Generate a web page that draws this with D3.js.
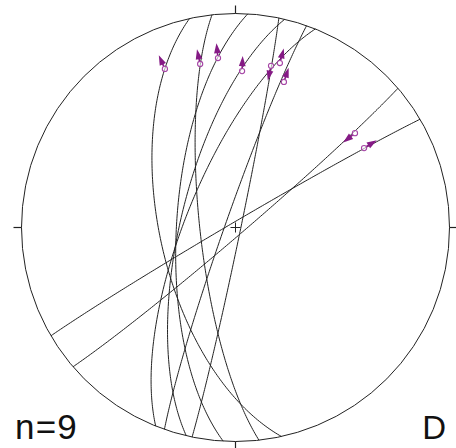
<!DOCTYPE html>
<html><head><meta charset="utf-8">
<script src="https://cdn.jsdelivr.net/npm/d3@7"></script>
<style>html,body{margin:0;padding:0;background:#fff;}svg{display:block;}</style>
</head><body>
<script>
// Fault planes (right-hand-rule strike, dip) — lower hemisphere, equal-area
const strikes = [167.6, 173.7, 183.3, 11.7, 193.3, 199.4, 201.9, 49.4, 239.6];
const dips    = [61,    76.5,  67.5,  88,   69,    86,    71,    87,   88];
// Slip lineations (trend, plunge) and arrow sense (+1 outward, -1 inward)
const linTrends  = [336.0, 347.8, 354.1, 2.4, 12.4, 15.1, 18.4, 51.7, 58.3];
const linPlunges = [20.0, 22.9, 21.5, 27.7, 23.7, 21.5, 29.1, 29.6, 30.1];
const senses     = [1, 1, 1, 1, -1, 1, 1, -1, 1];
const countLabel = "n=9";
const panelLabel = "D";

const W = 456, H = 448;
const cx = 235.5, cy = 227.5, R = 214;
const svg = d3.select("body").append("svg").attr("width", W).attr("height", H);

const proj = d3.geoAzimuthalEqualArea()
  .rotate([0, -90])
  .scale(R / Math.SQRT2)
  .translate([cx, cy]);
const toLonLat = (trend, plunge) => [180 - trend, plunge];
const rad = Math.PI / 180;

// primitive circle
svg.append("circle").attr("cx", cx).attr("cy", cy).attr("r", R)
  .attr("fill", "none").attr("stroke", "#222").attr("stroke-width", 1);

// ticks N E S W
const tickLen = 8;
[0, 90, 180, 270].forEach(t => {
  const p0 = proj(toLonLat(t, 0));
  const ux = Math.sin(t * rad), uy = -Math.cos(t * rad);
  svg.append("line").attr("x1", p0[0]).attr("y1", p0[1])
    .attr("x2", p0[0] + ux * tickLen).attr("y2", p0[1] + uy * tickLen)
    .attr("stroke", "#222").attr("stroke-width", 1.2);
});
// center cross
const c0 = proj(toLonLat(0, 90));
svg.append("path").attr("d", `M${c0[0]-5},${c0[1]}H${c0[0]+5}M${c0[0]},${c0[1]-5}V${c0[1]+5}`)
  .attr("stroke", "#222").attr("stroke-width", 1);

// great circles
const line = d3.line();
strikes.forEach((s, i) => {
  const d = dips[i], dd = s + 90;
  const sv = [Math.sin(s * rad), Math.cos(s * rad), 0];
  const dv = [Math.cos(d * rad) * Math.sin(dd * rad), Math.cos(d * rad) * Math.cos(dd * rad), Math.sin(d * rad)];
  const pts = d3.range(0, 180.01, 1).map(a => {
    const ca = Math.cos(a * rad), sa = Math.sin(a * rad);
    const E = ca * sv[0] + sa * dv[0], N = ca * sv[1] + sa * dv[1], D = Math.max(0, sa * dv[2]);
    const tr = Math.atan2(E, N) / rad, pl = Math.asin(Math.min(1, D)) / rad;
    return proj(toLonLat(tr, pl));
  });
  svg.append("path").attr("d", line(pts)).attr("fill", "none")
    .attr("stroke", "#222").attr("stroke-width", 1);
});

// slip lineations with arrows
const purple = "#851a85";
linTrends.forEach((t, i) => {
  const p = proj(toLonLat(t, linPlunges[i]));
  let ux = p[0] - c0[0], uy = p[1] - c0[1];
  const L = Math.hypot(ux, uy); ux = ux / L * senses[i]; uy = uy / L * senses[i];
  const nx = -uy, ny = ux;
  const b = 5, tip = 15, hw = 3.4;
  svg.append("line").attr("x1", p[0] + ux * 2.5).attr("y1", p[1] + uy * 2.5)
    .attr("x2", p[0] + ux * (b + 1)).attr("y2", p[1] + uy * (b + 1))
    .attr("stroke", purple).attr("stroke-width", 1.6);
  const bx = p[0] + ux * b, by = p[1] + uy * b;
  svg.append("path")
    .attr("d", `M${p[0] + ux * tip},${p[1] + uy * tip}L${bx + nx * hw},${by + ny * hw}L${bx - nx * hw},${by - ny * hw}Z`)
    .attr("fill", purple);
  svg.append("circle").attr("cx", p[0]).attr("cy", p[1]).attr("r", 2.6)
    .attr("fill", "#fff").attr("fill-opacity", 0.6).attr("stroke", "#a545a5").attr("stroke-width", 1.1);
});

// labels
svg.append("text").attr("x", 15).attr("y", 439).text(countLabel)
  .attr("font-family", "Liberation Sans, Arial, sans-serif").attr("font-size", 35)
  .attr("letter-spacing", 1.2).attr("fill", "#111");
svg.append("text").attr("x", 446).attr("y", 439).attr("text-anchor", "end").text(panelLabel)
  .attr("font-family", "Liberation Sans, Arial, sans-serif").attr("font-size", 33).attr("fill", "#111");
</script>
</body></html>
